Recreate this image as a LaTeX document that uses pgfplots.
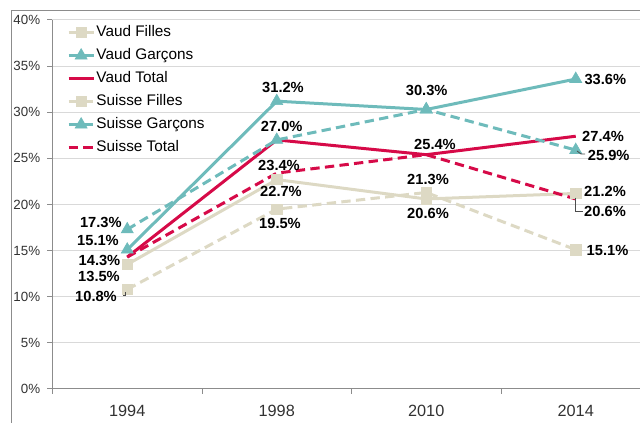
\documentclass[border=0pt]{standalone}
\usepackage{pgfplots}
\pgfplotsset{compat=1.18}
\usepackage{fontspec}
\setmainfont{Liberation Sans}
\definecolor{beige}{RGB}{221,217,196}
\definecolor{tealc}{RGB}{110,187,187}
\definecolor{crim}{RGB}{214,10,72}
\definecolor{gridc}{RGB}{217,217,217}
\definecolor{axc}{RGB}{140,140,140}
\definecolor{tlab}{RGB}{50,50,50}
\begin{document}
\begin{tikzpicture}[x=0.75pt,y=-0.75pt]
\useasboundingbox (0,0) rectangle (640,423);
\draw[axc, line width=0.75pt] (11,430) -- (11,11) -- (650,11);
\begin{axis}[
  at={(39.375pt,-291.75pt)}, anchor=south west,
  scale only axis, width=448.5pt, height=276.75pt,
  xmin=-0.5, xmax=3.5, ymin=0, ymax=40,
  axis lines=left, axis line style={-, axc, line width=0.75pt},
  xtick={0,1,2,3}, xticklabels={1994,1998,2010,2014},
  minor xtick={-0.5,0.5,1.5,2.5,3.5},
  ytick={0,5,...,40},
  yticklabel={\pgfmathprintnumber{\tick}\%},
  /pgf/number format/assume math mode=true,
  ymajorgrids, grid style={gridc, line width=0.75pt},
  tick align=outside,
  major tick length=3.75pt, minor tick length=3.75pt,
  major x tick style={draw=none},
  tick style={axc, line width=0.75pt},
  yticklabel style={font=\fontsize{10}{12}\selectfont, text=tlab, xshift=-2pt},
  xticklabel style={font=\fontsize{12.2}{14}\selectfont, text=tlab, yshift=-5pt},
  clip=false,
  legend style={at={(0.024,0.99)}, anchor=north west, draw=none, fill=none,
    inner sep=0pt, font=\fontsize{11.5}{13}\selectfont, row sep=4.25pt,
    nodes={text height=8.5pt, text depth=2.5pt, inner sep=1pt}},
  legend cell align=left,
  legend image code/.code={\draw[mark repeat=2,mark phase=2] plot coordinates {(0pt,0pt) (9.4pt,0pt) (18.75pt,0pt)};},
]
\addplot[beige, line width=2.25pt, mark=square*, mark size=3.9pt, mark options={solid, line width=0.5pt}] coordinates {(0,13.5)(1,22.7)(2,20.6)(3,21.2)};
\addlegendentry{Vaud Filles}
\addplot[tealc, line width=2.25pt, mark=triangle*, mark size=5.2pt, mark options={solid, line width=0.5pt}] coordinates {(0,15.1)(1,31.2)(2,30.3)(3,33.6)};
\addlegendentry{Vaud Garçons}
\addplot[crim, line width=2.25pt, no markers] coordinates {(0,14.3)(1,27.0)(2,25.4)(3,27.4)};
\addlegendentry{Vaud Total}
\addplot[beige, line width=2.25pt, dash pattern=on 7pt off 4pt, mark=square*, mark size=3.9pt, mark options={solid, line width=0.5pt}] coordinates {(0,10.8)(1,19.5)(2,21.3)(3,15.1)};
\addlegendentry{Suisse Filles}
\addplot[tealc, line width=2.25pt, dash pattern=on 7pt off 4pt, mark=triangle*, mark size=5.2pt, mark options={solid, line width=0.5pt}] coordinates {(0,17.3)(1,27.0)(2,30.3)(3,25.9)};
\addlegendentry{Suisse Garçons}
\addplot[crim, line width=2.25pt, dash pattern=on 7pt off 4pt, no markers] coordinates {(0,14.3)(1,23.4)(2,25.4)(3,20.6)};
\addlegendentry{Suisse Total}
\end{axis}
\begin{scope}[every node/.style={font=\fontsize{11}{13}\selectfont\bfseries, text=black, inner sep=0pt}]
\node at (100.8,222.7) {17.3\%};
\node at (98,240) {15.1\%};
\node at (99.5,260) {14.3\%};
\node at (99,276.7) {13.5\%};
\node at (96,296.7) {10.8\%};
\node at (283,87.7) {31.2\%};
\node at (281.7,126.7) {27.0\%};
\node at (279,165) {23.4\%};
\node at (281,191.7) {22.7\%};
\node at (280,223.3) {19.5\%};
\node at (426.7,90) {30.3\%};
\node at (435,144) {25.4\%};
\node at (428,179) {21.3\%};
\node at (428,213.3) {20.6\%};
\node at (605.3,79.3) {33.6\%};
\node at (603,136) {27.4\%};
\node at (608.7,155) {25.9\%};
\node at (605,191.7) {21.2\%};
\node at (605,211.7) {20.6\%};
\node at (607.5,250) {15.1\%};
\end{scope}
\draw[black!70, line width=0.6pt] (125.5,292) -- (125.5,295.5) -- (122.5,295.5);
\draw[black!70, line width=0.6pt] (577,151) -- (581,154) -- (585,154);
\draw[black!70, line width=0.6pt] (575,198) -- (575,211) -- (583,211);
\end{tikzpicture}
\end{document}
